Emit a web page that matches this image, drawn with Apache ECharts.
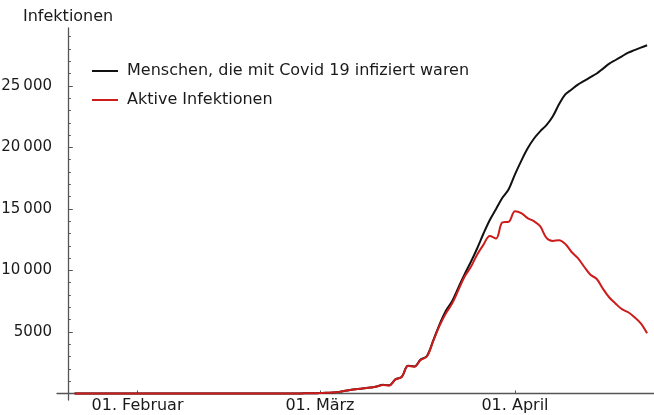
<!DOCTYPE html>
<html>
<head>
<meta charset="utf-8">
<script src="https://cdn.jsdelivr.net/npm/echarts@6/dist/echarts.min.js"></script>
<style>
html,body{margin:0;padding:0;background:#fff;}
#chart{width:654px;height:415px;}
</style>
</head>
<body>
<div id="chart"></div>
<script>
// ---- data (daily, 22 Jan 2020 .. 22 Apr 2020) ----
const startDate = '2020-01-22';
const dayCount = 92;
const confirmed = [
  0,0,0,0,0,0,0,0,0,0,
  0,0,0,0,0,0,0,0,0,0,
  0,0,0,0,0,0,0,0,0,0,
  0,0,0,0,1,1,8,10,20,35,
  50,80,130,220,300,360,420,480,560,700,
  660,1150,1350,2250,2200,2750,3050,4300,5600,6700,
  7500,8600,9700,10700,11800,13000,14100,15000,15900,16600,
  17800,18900,19900,20700,21300,21800,22500,23500,24300,24700,
  25100,25400,25700,26000,26400,26800,27100,27400,27700,27900,
  28100,28300
];
const active = [
  0,0,0,0,0,0,0,0,0,0,
  0,0,0,0,0,0,0,0,0,0,
  0,0,0,0,0,0,0,0,0,0,
  0,0,0,0,1,1,8,10,20,35,
  50,80,130,220,300,360,420,480,560,695,
  650,1140,1340,2230,2180,2720,3000,4250,5500,6500,
  7300,8400,9500,10300,11300,12100,12800,12600,13900,13950,
  14800,14650,14250,14000,13600,12650,12400,12450,12150,11500,
  11000,10300,9650,9300,8500,7800,7300,6850,6600,6200,
  5700,4900
];
const seriesNames = ['Menschen, die mit Covid 19 infiziert waren', 'Aktive Infektionen'];
const tickDates = ['2020-02-01', '2020-03-01', '2020-04-01'];
const tickLabels = ['01. Februar', '01. März', '01. April'];
const yLabelValues = [5000, 10000, 15000, 20000, 25000];
const yAxisTitle = 'Infektionen';

// ---- build ----
const DAY = 86400000;
const originMs = Date.parse('2020-01-21T00:00:00Z'); // position of the vertical axis
const startMs = Date.parse(startDate + 'T00:00:00Z');
function dayPos(ms) { return Math.round((ms - originMs) / DAY); }
const xs = [];
for (let i = 0; i < dayCount; i++) xs.push(dayPos(startMs + i * DAY));
const tickPos = tickDates.map(d => dayPos(Date.parse(d + 'T00:00:00Z')));
const minorY = [];
for (let v = 1000; v <= 29000; v += 1000) if (v % 5000 !== 0) minorY.push(v);

function fmtY(v) {
  const s = String(v);
  if (s.length <= 4) return s;
  return s.slice(0, s.length - 3) + '\u2009' + s.slice(s.length - 3);
}

const FONT = 'DejaVu Sans';
const AXIS = '#555555';
const TEXT = '#1a1a1a';
const GRID_LEFT = 57, GRID_RIGHT = 0, CHART_W = 654;
const X_MIN = -1.8, X_MAX = 93.1;
// pixel offset of the value-0 vertical axis from the grid's left edge
const yAxisShift = (0 - X_MIN) / (X_MAX - X_MIN) * (CHART_W - GRID_LEFT - GRID_RIGHT);

const chart = echarts.init(document.getElementById('chart'), null, {renderer: 'canvas'});
chart.setOption({
  animation: false,
  backgroundColor: '#ffffff',
  textStyle: {fontFamily: FONT},
  title: {
    text: yAxisTitle, left: 18, top: 4,
    textStyle: {fontFamily: FONT, fontSize: 16, fontWeight: 'normal', color: TEXT}
  },
  legend: {
    orient: 'vertical', left: 87, top: 57,
    itemWidth: 26, itemHeight: 2, itemGap: 11,
    icon: 'path://M0,0 L26,0 L26,2 L0,2 Z',
    textStyle: {fontFamily: FONT, fontSize: 16, color: TEXT, lineHeight: 18, padding: [0, 0, 0, 4]},
    data: seriesNames
  },
  grid: {left: GRID_LEFT, right: GRID_RIGHT, top: 28, bottom: 15, containLabel: false, outerBoundsMode: 'none'},
  xAxis: {
    type: 'value', min: X_MIN, max: X_MAX,
    axisLine: {onZero: true, lineStyle: {color: AXIS, width: 1.3}},
    axisTick: {show: true, inside: true, length: 3, customValues: tickPos, lineStyle: {color: AXIS}},
    axisLabel: {
      customValues: tickPos, margin: -2,
      fontFamily: FONT, fontSize: 16, color: TEXT,
      formatter: v => { const k = tickPos.indexOf(Math.round(v)); return k >= 0 ? tickLabels[k] : ''; }
    },
    splitLine: {show: false}
  },
  yAxis: [
    {
      type: 'value', position: 'left', min: -530, max: 29700,
      axisLine: {onZero: true, lineStyle: {color: AXIS, width: 1.3}},
      axisTick: {show: true, inside: true, length: 2.5, customValues: minorY, lineStyle: {color: AXIS}},
      axisLabel: {
        customValues: yLabelValues, margin: 5,
        fontFamily: FONT, fontSize: 15, color: TEXT,
        formatter: v => fmtY(v)
      },
      splitLine: {show: false}
    },
    {
      type: 'value', position: 'left', min: -530, max: 29700,
      offset: -yAxisShift,
      axisLine: {show: false, onZero: false},
      axisTick: {show: true, inside: true, length: 4.5, customValues: yLabelValues, lineStyle: {color: AXIS}},
      axisLabel: {show: false},
      splitLine: {show: false}
    }
  ],
  series: [
    {
      name: seriesNames[0], type: 'line', yAxisIndex: 0,
      data: xs.map((x, i) => [x, confirmed[i]]),
      smooth: 0.35, showSymbol: false, symbol: 'none',
      lineStyle: {color: '#111111', width: 2},
      itemStyle: {color: '#111111'}
    },
    {
      name: seriesNames[1], type: 'line', yAxisIndex: 0,
      data: xs.map((x, i) => [x, active[i]]),
      smooth: 0.35, showSymbol: false, symbol: 'none',
      lineStyle: {color: '#cc1c1c', width: 2},
      itemStyle: {color: '#cc1c1c'}
    }
  ]
});
</script>
</body>
</html>
